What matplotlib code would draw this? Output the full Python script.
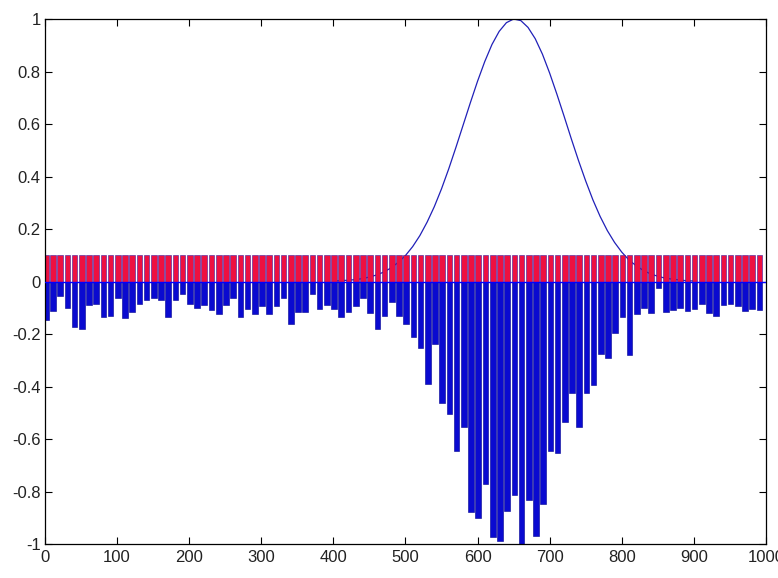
import matplotlib
matplotlib.use("Agg")
import matplotlib.pyplot as plt

# ---- data ----
bar_x = list(range(1, 1000, 10))  # 100 bar positions: 1, 11, ..., 991
pos_heights = [0.1] * 100
neg_heights = [
    -0.146, -0.114, -0.057, -0.099, -0.172, -0.179, -0.089, -0.084, -0.136, -0.131,
    -0.061, -0.140, -0.118, -0.084, -0.071, -0.064, -0.071, -0.136, -0.071, -0.046,
    -0.085, -0.100, -0.090, -0.108, -0.123, -0.091, -0.061, -0.136, -0.104, -0.123,
    -0.094, -0.123, -0.094, -0.061, -0.160, -0.116, -0.116, -0.048, -0.105, -0.090,
    -0.105, -0.137, -0.118, -0.095, -0.061, -0.121, -0.179, -0.131, -0.079, -0.130,
    -0.160, -0.211, -0.252, -0.392, -0.239, -0.462, -0.506, -0.646, -0.555, -0.879,
    -0.901, -0.770, -0.973, -0.990, -0.875, -0.812, -1.000, -0.831, -0.971, -0.846,
    -0.646, -0.653, -0.536, -0.425, -0.555, -0.426, -0.394, -0.276, -0.290, -0.195,
    -0.135, -0.280, -0.123, -0.100, -0.120, -0.024, -0.116, -0.109, -0.100, -0.114,
    -0.105, -0.086, -0.119, -0.131, -0.091, -0.086, -0.095, -0.114, -0.105, -0.109,
]
curve_x = [400, 410, 420, 430, 440, 450, 460, 470, 480, 490,
           500, 510, 520, 530, 540, 550, 560, 570, 580, 590,
           600, 610, 620, 630, 640, 650, 660, 670, 680, 690,
           700, 710, 720, 730, 740, 750, 760, 770, 780, 790,
           800, 810, 820, 830, 840, 850, 860, 870, 880, 890, 900]
curve_y = [0.002, 0.003, 0.005, 0.007, 0.011, 0.017, 0.025, 0.036, 0.052, 0.073,
           0.099, 0.133, 0.175, 0.226, 0.285, 0.353, 0.429, 0.511, 0.596, 0.681,
           0.763, 0.838, 0.903, 0.953, 0.986, 1.000, 0.994, 0.968, 0.925, 0.866,
           0.794, 0.714, 0.630, 0.544, 0.461, 0.383, 0.311, 0.248, 0.194, 0.149,
           0.112, 0.082, 0.060, 0.042, 0.029, 0.020, 0.013, 0.009, 0.006, 0.003, 0.002]
x_ticks = [0, 100, 200, 300, 400, 500, 600, 700, 800, 900, 1000]
y_ticks = [-1, -0.8, -0.6, -0.4, -0.2, 0, 0.2, 0.4, 0.6, 0.8, 1]
y_tick_labels = ["-1", "-0.8", "-0.6", "-0.4", "-0.2", "0", "0.2", "0.4", "0.6", "0.8", "1"]

plt.rcParams['font.family'] = ['Liberation Sans', 'DejaVu Sans']

fig = plt.figure(figsize=(7.78, 5.78), dpi=100)
ax = fig.add_axes([0.0578, 0.0588, 0.9267, 0.9083])

ax.plot(curve_x, curve_y, color='#2020b8', linewidth=0.9, zorder=1)
ax.bar(bar_x, pos_heights, width=7.8, color='#ee1040', edgecolor='#3a1aa0',
       linewidth=0.4, zorder=2)
ax.bar(bar_x, neg_heights, width=7.8, color='#0a0ad0', edgecolor='#000090',
       linewidth=0.4, zorder=2)
ax.axhline(0, color='#0000ff', linewidth=1.0, zorder=3)

ax.set_xlim(0, 1000)
ax.set_ylim(-1, 1)
ax.set_xticks(x_ticks)
ax.set_xticklabels([str(t) for t in x_ticks])
ax.set_yticks(y_ticks)
ax.set_yticklabels(y_tick_labels)
ax.tick_params(direction='in', length=5, width=0.8, labelsize=12,
               top=True, right=True, colors='black', labelcolor='#222222')
ax.tick_params(axis='y', pad=3)
ax.tick_params(axis='x', pad=4)
for s in ax.spines.values():
    s.set_linewidth(0.9)
    s.set_color('black')

fig.savefig("out.png", dpi=100)
